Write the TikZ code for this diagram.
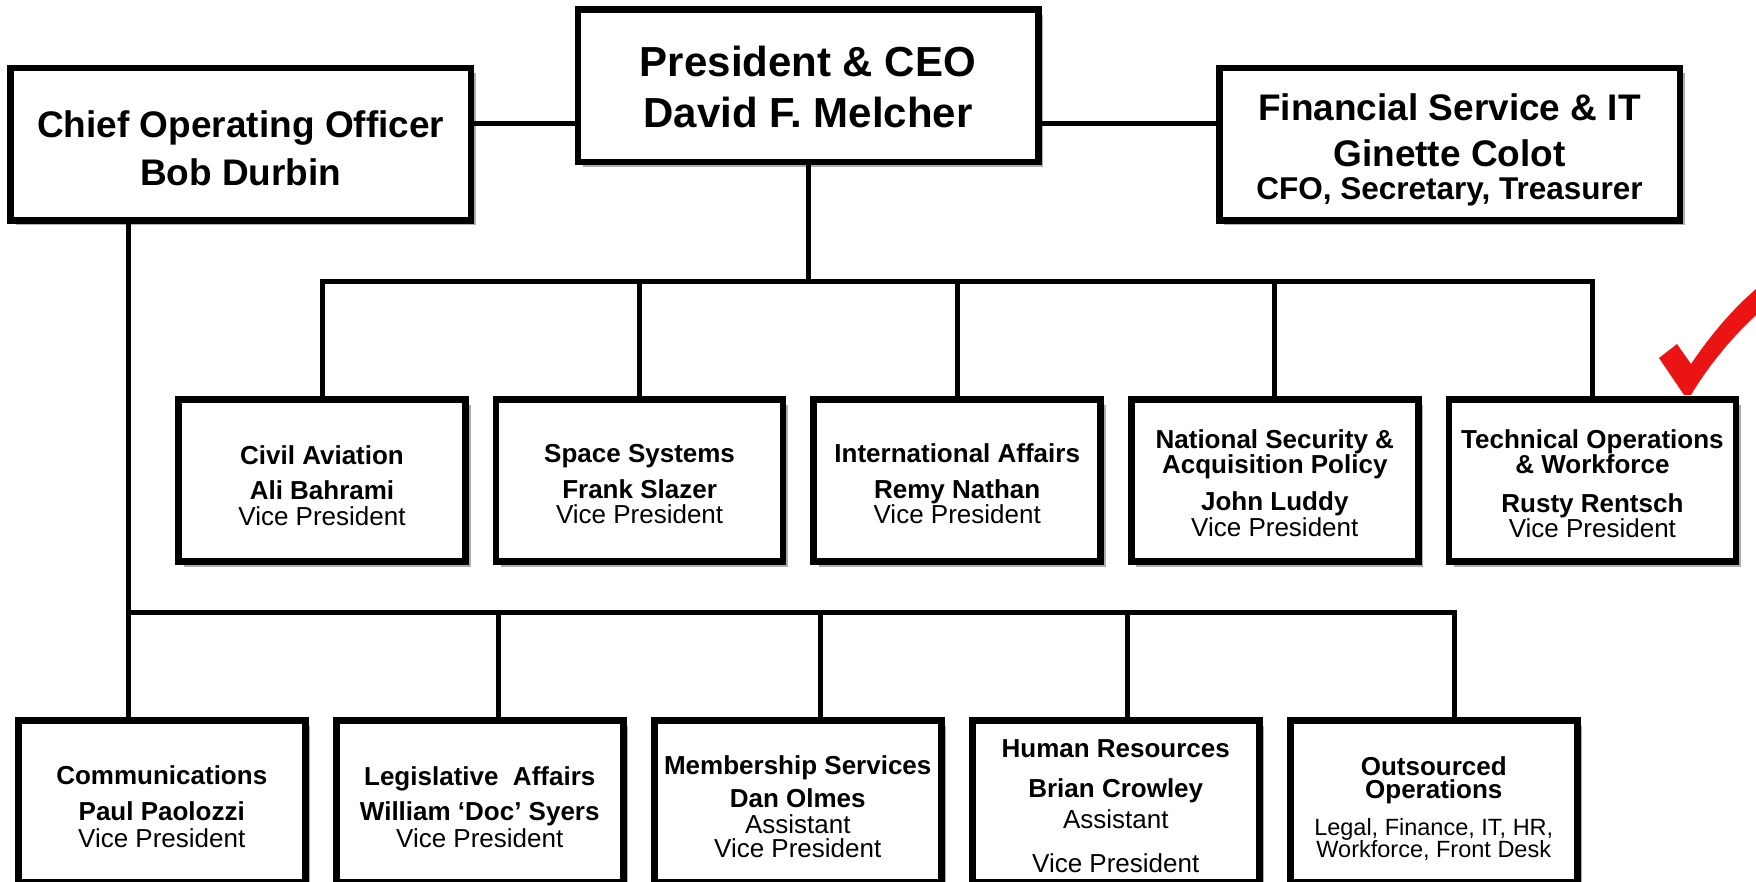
\documentclass[tikz,border=0pt]{standalone}
\usepackage{fontspec}
\setmainfont{Liberation Sans}
\usetikzlibrary{shadows}
\definecolor{checkred}{RGB}{235,20,20}
\lineskiplimit=-100pt

\begin{document}
\begin{tikzpicture}[x=1pt, y=-1pt,
  box/.style={draw=black, line width=6.5pt, fill=white, inner sep=0pt, align=center,
    drop shadow={shadow xshift=5pt, shadow yshift=-5pt, opacity=0.4, fill=black!80}},
  topbox/.style={box, minimum width=460.5pt, minimum height=152.5pt},
  vpbox/.style={box, minimum width=287pt, minimum height=162pt,
    font=\bfseries\fontsize{26}{26}\selectfont},
  lastline/.style={text height=#1, text depth=0pt},
  link/.style={line width=5pt}]
  \useasboundingbox (0,0) rectangle (1756,882);
  \fill[white] (0,0) rectangle (1756,882);

  % Top row
  \node[topbox, lastline=83.5pt, font=\bfseries\fontsize{37}{48}\selectfont] (coo) at (240.75,144.25)
    {Chief Operating Officer\\Bob Durbin};
  \node[topbox, lastline=84pt, font=\bfseries\fontsize{42}{51}\selectfont] (pres) at (808,86)
    {President \& CEO\\David F. Melcher};
  \node[topbox, lastline=111.5pt, font=\bfseries\fontsize{37}{44}\selectfont] (fin) at (1449.5,144.25)
    {Financial Service \& IT\\[2pt]Ginette Colot\\[-11pt]\fontsize{31.5}{44}\selectfont CFO, Secretary, Treasurer};

  % Vice presidents under the CEO
  \node[vpbox, lastline=89pt] (civil) at (322,480.5)
    {Civil Aviation\\[9pt]Ali Bahrami\\\mdseries Vice President};
  \node[vpbox, lastline=85pt] (space) at (639.6,480.5)
    {Space Systems\\[10pt]Frank Slazer\\[-1pt]\mdseries Vice President};
  \node[vpbox, lastline=85pt] (intl) at (957.2,480.5)
    {International Affairs\\[10pt]Remy Nathan\\[-1pt]\mdseries Vice President};
  \node[vpbox, lastline=111pt] (natsec) at (1274.8,480.5)
    {National Security \&\\[-1pt]Acquisition Policy\\[11pt]John Luddy\\\mdseries Vice President};
  \node[vpbox, lastline=113pt] (techops) at (1592.4,480.5)
    {Technical Operations\\[-1pt]\& Workforce\\[13pt]Rusty Rentsch\\[-1pt]\mdseries Vice President};

  % Offices under the COO
  \node[vpbox, lastline=91pt] (comm) at (161.75,801.5)
    {Communications\\[10pt]Paul Paolozzi\\[1pt]\mdseries Vice President};
  \node[vpbox, lastline=91pt] (legis) at (479.75,801.5)
    {Legislative~~Affairs\\[9pt]William ‘Doc’ Syers\\[1pt]\mdseries Vice President};
  \node[vpbox, lastline=111pt] (member) at (797.75,801.5)
    {Membership Services\\[7pt]Dan Olmes\\\mdseries Assistant\\[-2pt]\mdseries Vice President};
  \node[vpbox, lastline=141pt] (hr) at (1115.75,801.5)
    {Human Resources\\[14pt]Brian Crowley\\[5pt]\mdseries Assistant\\[18pt]\mdseries Vice President};
  \node[vpbox, lastline=112pt] (outsrc) at (1433.75,801.5)
    {Outsourced\\[-3pt]Operations\\[11pt]\mdseries\fontsize{23.5}{26}\selectfont Legal, Finance, IT, HR,\\[-4pt]\mdseries\fontsize{23.5}{26}\selectfont Workforce, Front Desk};

  % Lines between the top boxes
  \coordinate (top) at (0,123.5);
  \draw[link] (coo.east |- top) -- (pres.west |- top);
  \draw[link] (pres.east |- top) -- (fin.west |- top);

  % CEO bus
  \coordinate (vpbus) at (0,281.5);
  \draw[link] (pres.south) -- (pres.south |- vpbus);
  \draw[link] (civil.north) |- (pres.south |- vpbus) -| (techops.north);
  \foreach \n in {space,intl,natsec}
    \draw[link] (\n.north |- vpbus) -- (\n.north);

  % COO bus
  \coordinate (d1) at (128,612);
  \coordinate (d2) at (498,612);
  \coordinate (d3) at (820,612);
  \coordinate (d4) at (1127,612);
  \coordinate (d5) at (1454,612);
  \draw[link] (coo.south -| d1) -- (comm.north -| d1);
  \draw[link] (d1) -- (d5) -- (outsrc.north -| d5);
  \foreach \d/\b in {d2/legis,d3/member,d4/hr}
    \draw[link] (\d) -- (\b.north -| \d);

  % Check mark
  \fill[checkred] (1659,358) -- (1677,344) -- (1691,364)
    .. controls (1712,333) and (1735,306) .. (1762,284) -- (1762,310)
    .. controls (1736,332) and (1708,366) .. (1691,395) -- (1684,395) -- cycle;
\end{tikzpicture}
\end{document}
